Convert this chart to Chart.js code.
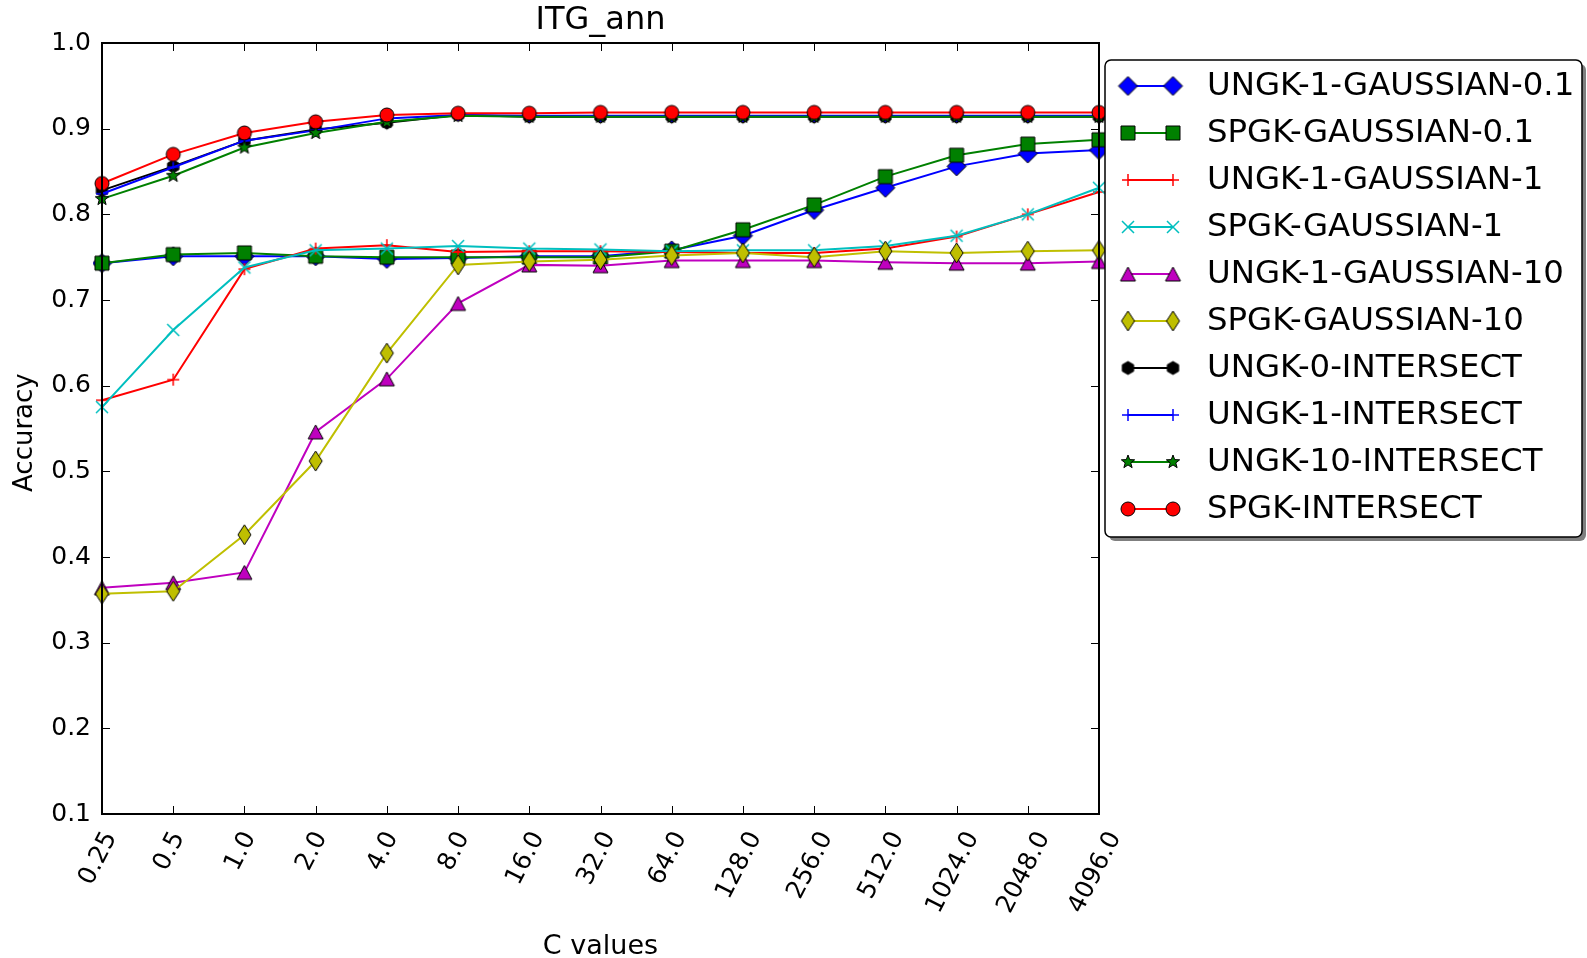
<!DOCTYPE html>
<html lang="en">
<head>
<meta charset="UTF-8">
<title>ITG_ann</title>
<script src="https://cdn.jsdelivr.net/npm/chart.js"></script>
<style>
  html, body {
    margin: 0;
    padding: 0;
    background: #ffffff;
    overflow: hidden;
  }
</style>
</head>
<body>
<canvas id="chart1" width="1587" height="958"></canvas>

<script>
// C values on the x axis
const cValues = ['0.25', '0.5', '1.0', '2.0', '4.0', '8.0', '16.0', '32.0', '64.0',
                 '128.0', '256.0', '512.0', '1024.0', '2048.0', '4096.0'];

// accuracy per kernel
const ungk1Gauss01 = [0.743, 0.751, 0.751, 0.751, 0.748, 0.749, 0.751, 0.751, 0.758, 0.775, 0.805, 0.831, 0.856, 0.871, 0.875];
const spgkGauss01  = [0.743, 0.753, 0.755, 0.751, 0.750, 0.750, 0.750, 0.750, 0.757, 0.782, 0.811, 0.844, 0.869, 0.882, 0.887];
const ungk1Gauss1  = [0.583, 0.607, 0.736, 0.760, 0.764, 0.756, 0.757, 0.757, 0.756, 0.755, 0.755, 0.760, 0.774, 0.800, 0.826];
const spgkGauss1   = [0.575, 0.665, 0.738, 0.758, 0.760, 0.763, 0.760, 0.759, 0.757, 0.758, 0.758, 0.763, 0.775, 0.800, 0.831];
const ungk1Gauss10 = [0.364, 0.370, 0.382, 0.546, 0.608, 0.696, 0.741, 0.740, 0.746, 0.746, 0.746, 0.744, 0.743, 0.743, 0.745];
const spgkGauss10  = [0.357, 0.360, 0.426, 0.512, 0.638, 0.741, 0.745, 0.747, 0.752, 0.755, 0.750, 0.757, 0.755, 0.757, 0.758];
const ungk0Inter   = [0.828, 0.856, 0.886, 0.899, 0.907, 0.916, 0.914, 0.914, 0.914, 0.914, 0.914, 0.914, 0.914, 0.914, 0.914];
const ungk1Inter   = [0.824, 0.855, 0.886, 0.898, 0.912, 0.916, 0.915, 0.915, 0.915, 0.915, 0.915, 0.915, 0.915, 0.915, 0.915];
const ungk10Inter  = [0.818, 0.845, 0.878, 0.895, 0.908, 0.915, 0.914, 0.914, 0.914, 0.914, 0.914, 0.914, 0.914, 0.914, 0.914];
const spgkInter    = [0.836, 0.870, 0.895, 0.908, 0.916, 0.918, 0.918, 0.919, 0.919, 0.919, 0.919, 0.919, 0.919, 0.919, 0.919];

const seriesNames = ['UNGK-1-GAUSSIAN-0.1', 'SPGK-GAUSSIAN-0.1', 'UNGK-1-GAUSSIAN-1', 'SPGK-GAUSSIAN-1',
                     'UNGK-1-GAUSSIAN-10', 'SPGK-GAUSSIAN-10', 'UNGK-0-INTERSECT', 'UNGK-1-INTERSECT',
                     'UNGK-10-INTERSECT', 'SPGK-INTERSECT'];
const seriesData = [ungk1Gauss01, spgkGauss01, ungk1Gauss1, spgkGauss1, ungk1Gauss10,
                    spgkGauss10, ungk0Inter, ungk1Inter, ungk10Inter, spgkInter];
const seriesColors = ['#0000ff', '#008000', '#ff0000', '#00bfbf', '#bf00bf',
                      '#bfbf00', '#000000', '#0000ff', '#008000', '#ff0000'];

const FONT = "'DejaVu Sans', 'Liberation Sans', sans-serif";
const X_ROT = 63;
const X_FONT_SIZE = 25;

// matplotlib-like marker images
function makeMarker(shape, rx, ry, fill, stroke, lw) {
  const pad = 2;
  const c = document.createElement('canvas');
  c.width = Math.ceil(rx * 2 + pad * 2);
  c.height = Math.ceil(ry * 2 + pad * 2);
  const g = c.getContext('2d');
  const cx = c.width / 2, cy = c.height / 2;
  g.beginPath();
  if (shape === 'circle') {
    g.arc(cx, cy, rx, 0, Math.PI * 2);
  } else if (shape === 'square') {
    g.rect(cx - rx, cy - ry, rx * 2, ry * 2);
  } else if (shape === 'diamond') {
    g.moveTo(cx, cy - ry); g.lineTo(cx + rx, cy); g.lineTo(cx, cy + ry); g.lineTo(cx - rx, cy); g.closePath();
  } else if (shape === 'triangle') {
    g.moveTo(cx, cy - ry); g.lineTo(cx + rx, cy + ry); g.lineTo(cx - rx, cy + ry); g.closePath();
  } else if (shape === 'hexagon') {
    for (let i = 0; i < 6; i++) {
      const a = -Math.PI / 2 + i * Math.PI / 3;
      const px = cx + rx * Math.cos(a), py = cy + ry * Math.sin(a);
      if (i === 0) g.moveTo(px, py); else g.lineTo(px, py);
    }
    g.closePath();
  } else if (shape === 'star') {
    for (let i = 0; i < 10; i++) {
      const a = -Math.PI / 2 + i * Math.PI / 5;
      const r = i % 2 === 0 ? rx : rx * 0.42;
      const px = cx + r * Math.cos(a), py = cy + r * Math.sin(a);
      if (i === 0) g.moveTo(px, py); else g.lineTo(px, py);
    }
    g.closePath();
  } else if (shape === 'plus') {
    g.moveTo(cx - rx, cy); g.lineTo(cx + rx, cy);
    g.moveTo(cx, cy - ry); g.lineTo(cx, cy + ry);
  } else if (shape === 'x') {
    g.moveTo(cx - rx, cy - ry); g.lineTo(cx + rx, cy + ry);
    g.moveTo(cx + rx, cy - ry); g.lineTo(cx - rx, cy + ry);
  }
  if (fill) { g.fillStyle = fill; g.fill(); }
  g.strokeStyle = stroke;
  g.lineWidth = lw;
  g.stroke();
  return c;
}

const markers = [
  makeMarker('diamond', 9.5, 9.5, '#0000ff', '#000000', 1),
  makeMarker('square', 7, 7, '#008000', '#000000', 1),
  makeMarker('plus', 6, 6, null, '#ff0000', 1.5),
  makeMarker('x', 6, 6, null, '#00bfbf', 1.5),
  makeMarker('triangle', 7.5, 7, '#bf00bf', '#000000', 1),
  makeMarker('diamond', 6.5, 10, '#bfbf00', '#000000', 1),
  makeMarker('hexagon', 6.5, 6.5, '#000000', '#000000', 1),
  makeMarker('plus', 6, 6, null, '#0000ff', 1.5),
  makeMarker('star', 7, 7, '#008000', '#000000', 1),
  makeMarker('circle', 7, 7, '#ff0000', '#000000', 1)
];

const datasets = seriesNames.map((name, i) => ({
  label: name,
  data: seriesData[i],
  borderColor: seriesColors[i],
  backgroundColor: seriesColors[i],
  borderWidth: 2,
  pointStyle: markers[i],
  pointRadius: 7,
  pointHoverRadius: 7,
  tension: 0,
  fill: false,
  order: seriesNames.length - 1 - i
}));

// frame, inward ticks and rotated x labels centred on their ticks (matplotlib style)
const frameTicks = {
  id: 'frameTicks',
  afterDatasetsDraw(chart) {
    const { ctx, chartArea: a, scales } = chart;
    ctx.save();
    ctx.strokeStyle = '#000';
    ctx.lineWidth = 1;
    ctx.beginPath();
    scales.x.ticks.forEach((t, i) => {
      const px = Math.round(scales.x.getPixelForTick(i)) + 0.5;
      ctx.moveTo(px, a.bottom); ctx.lineTo(px, a.bottom - 8);
      ctx.moveTo(px, a.top); ctx.lineTo(px, a.top + 8);
    });
    scales.y.ticks.forEach(t => {
      const py = Math.round(scales.y.getPixelForValue(t.value)) + 0.5;
      ctx.moveTo(a.left, py); ctx.lineTo(a.left + 8, py);
      ctx.moveTo(a.right, py); ctx.lineTo(a.right - 8, py);
    });
    ctx.stroke();
    ctx.lineWidth = 2;
    ctx.strokeRect(a.left, a.top, a.right - a.left, a.bottom - a.top);

    const rot = X_ROT * Math.PI / 180;
    const h = X_FONT_SIZE * 0.73;
    ctx.font = X_FONT_SIZE + 'px ' + FONT;
    ctx.fillStyle = '#000';
    ctx.textAlign = 'center';
    ctx.textBaseline = 'middle';
    scales.x.ticks.forEach((t, i) => {
      const label = cValues[i];
      const w = ctx.measureText(label).width;
      const halfH = (w * Math.sin(rot) + h * Math.cos(rot)) / 2;
      const cx = scales.x.getPixelForTick(i) - 4.5;
      const cy = a.bottom + 15 + halfH;
      ctx.save();
      ctx.translate(cx, cy);
      ctx.rotate(-rot);
      ctx.fillText(label, 0, 1);
      ctx.restore();
    });
    ctx.restore();
  }
};

// boxed legend on the right, with shadow
const boxLegend = {
  id: 'boxLegend',
  afterDraw(chart) {
    const ctx = chart.ctx;
    const bx = 1105, by = 60, bw = 477, bh = 477;
    ctx.save();
    ctx.fillStyle = 'rgba(0,0,0,0.5)';
    ctx.beginPath();
    ctx.roundRect(bx + 4, by + 4, bw, bh, 6);
    ctx.fill();
    ctx.fillStyle = '#fff';
    ctx.strokeStyle = '#000';
    ctx.lineWidth = 1.5;
    ctx.beginPath();
    ctx.roundRect(bx, by, bw, bh, 6);
    ctx.fill();
    ctx.stroke();

    ctx.font = '32.4px ' + FONT;
    ctx.textBaseline = 'middle';
    ctx.fillStyle = '#000';
    seriesNames.forEach((name, i) => {
      const y = 86 + i * 47;
      ctx.strokeStyle = seriesColors[i];
      ctx.lineWidth = 2;
      ctx.beginPath();
      ctx.moveTo(1128, y); ctx.lineTo(1173, y);
      ctx.stroke();
      const m = markers[i];
      ctx.drawImage(m, 1128 - m.width / 2, y - m.height / 2);
      ctx.drawImage(m, 1173 - m.width / 2, y - m.height / 2);
      ctx.fillText(name, 1207, y + 1);
    });
    ctx.restore();
  }
};

new Chart(document.getElementById('chart1'), {
  type: 'line',
  data: { labels: cValues, datasets: datasets },
  plugins: [frameTicks, boxLegend],
  options: {
    responsive: false,
    animation: false,
    events: [],
    layout: { padding: { left: 0, right: 488, top: 0, bottom: 0 } },
    plugins: {
      legend: { display: false },
      tooltip: { enabled: false },
      title: {
        display: true,
        text: 'ITG_ann',
        fullSize: false,
        color: '#000',
        font: { family: FONT, size: 32, weight: 'normal', lineHeight: 1 },
        padding: { top: 5, bottom: 6 }
      }
    },
    scales: {
      x: {
        type: 'category',
        offset: false,
        grid: { display: false },
        border: { display: false },
        ticks: {
          display: false,
          autoSkip: false
        },
        title: {
          display: true,
          text: 'C values',
          color: '#000',
          font: { family: FONT, size: 27, lineHeight: 0.85 },
          padding: { top: 0, bottom: 0 }
        },
        afterFit(scale) { scale.height = 144; }
      },
      y: {
        min: 0.1,
        max: 1.0,
        grid: { display: false, drawTicks: false },
        border: { display: false },
        ticks: {
          stepSize: 0.1,
          padding: 11,
          color: '#000',
          font: { family: FONT, size: 25 },
          callback: v => Number(v).toFixed(1)
        },
        title: {
          display: true,
          text: 'Accuracy ',
          color: '#000',
          font: { family: FONT, size: 26 },
          padding: { top: 10, bottom: 0 }
        },
        afterFit(scale) { scale.width = 102; }
      }
    }
  }
});
</script>
</body>
</html>
